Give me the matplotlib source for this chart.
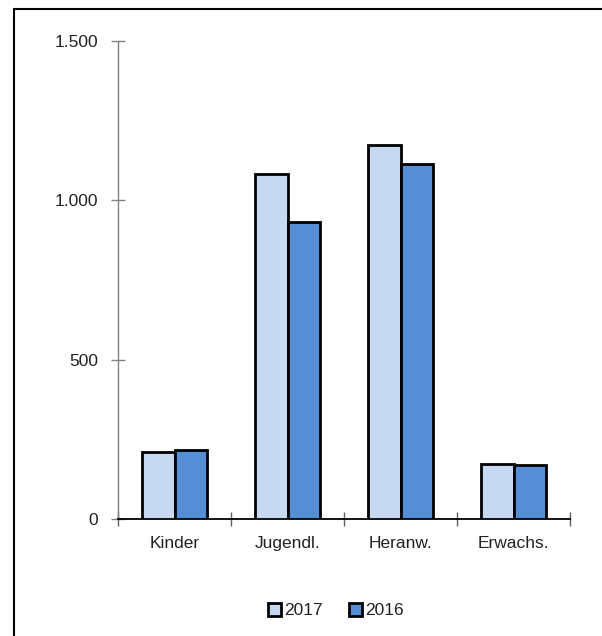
import numpy as np
import matplotlib
matplotlib.use("Agg")
import matplotlib.pyplot as plt
from matplotlib.patches import Rectangle
from matplotlib.ticker import FuncFormatter

plt.rcParams['font.family'] = ['Liberation Sans', 'DejaVu Sans']

# Daten
kategorien = ['Kinder', 'Jugendl.', 'Heranw.', 'Erwachs.']
werte_2017 = [211, 1083, 1175, 173]
werte_2016 = [216, 932, 1114, 168]
jahre = ['2017', '2016']
farben = ['#C6D9F1', '#558ED5']

fig = plt.figure(figsize=(6.02, 6.36), dpi=100)
ax = fig.add_axes([118/602, 1 - 519/636, 452/602, 478/636])

x = np.arange(len(kategorien))
breite = 0.2875
ax.bar(x - breite/2, werte_2017, breite, color=farben[0], edgecolor='black',
       linewidth=2.0, label=jahre[0], zorder=3)
ax.bar(x + breite/2, werte_2016, breite, color=farben[1], edgecolor='black',
       linewidth=2.0, label=jahre[1], zorder=3)

ax.set_xlim(-0.5, len(kategorien) - 0.5)
ax.set_ylim(0, 1500)

# Achsen
for s in ['top', 'right']:
    ax.spines[s].set_visible(False)
ax.spines['left'].set_color('#808080')
ax.spines['left'].set_linewidth(1.0)
ax.spines['bottom'].set_color('black')
ax.spines['bottom'].set_linewidth(1.3)

ax.set_yticks([0, 500, 1000, 1500])
ax.yaxis.set_major_formatter(FuncFormatter(lambda v, p: f'{int(v):,}'.replace(',', '.')))
ax.tick_params(axis='y', direction='inout', length=10, width=1, color='#808080',
               labelsize=12.5, pad=9.4, labelcolor='#222222')

ax.set_xticks(np.arange(-0.5, len(kategorien)), labels=[])
ax.set_xticks(x, labels=kategorien, minor=True)
ax.tick_params(axis='x', which='major', direction='inout', length=10, width=1,
               color='#606060')
ax.tick_params(axis='x', which='minor', length=0, labelsize=12.5, pad=12,
               labelcolor='#222222')

leg = fig.legend(loc='center', bbox_to_anchor=(0.558, 1 - 610.5/636), ncol=2,
                 frameon=False, fontsize=12.5, handlelength=0.75, handleheight=0.75,
                 handletextpad=0.15, columnspacing=1.55)
for h in leg.legend_handles:
    h.set_linewidth(2.0)
for t in leg.get_texts():
    t.set_color('#222222')

# Rahmen um die Grafik
fig.patches.append(Rectangle((14/602, -0.05), 1.1, 1 - 9/636 + 0.05,
                             transform=fig.transFigure, fill=False,
                             edgecolor='black', linewidth=1.5))

fig.savefig('out.png', dpi=100)
